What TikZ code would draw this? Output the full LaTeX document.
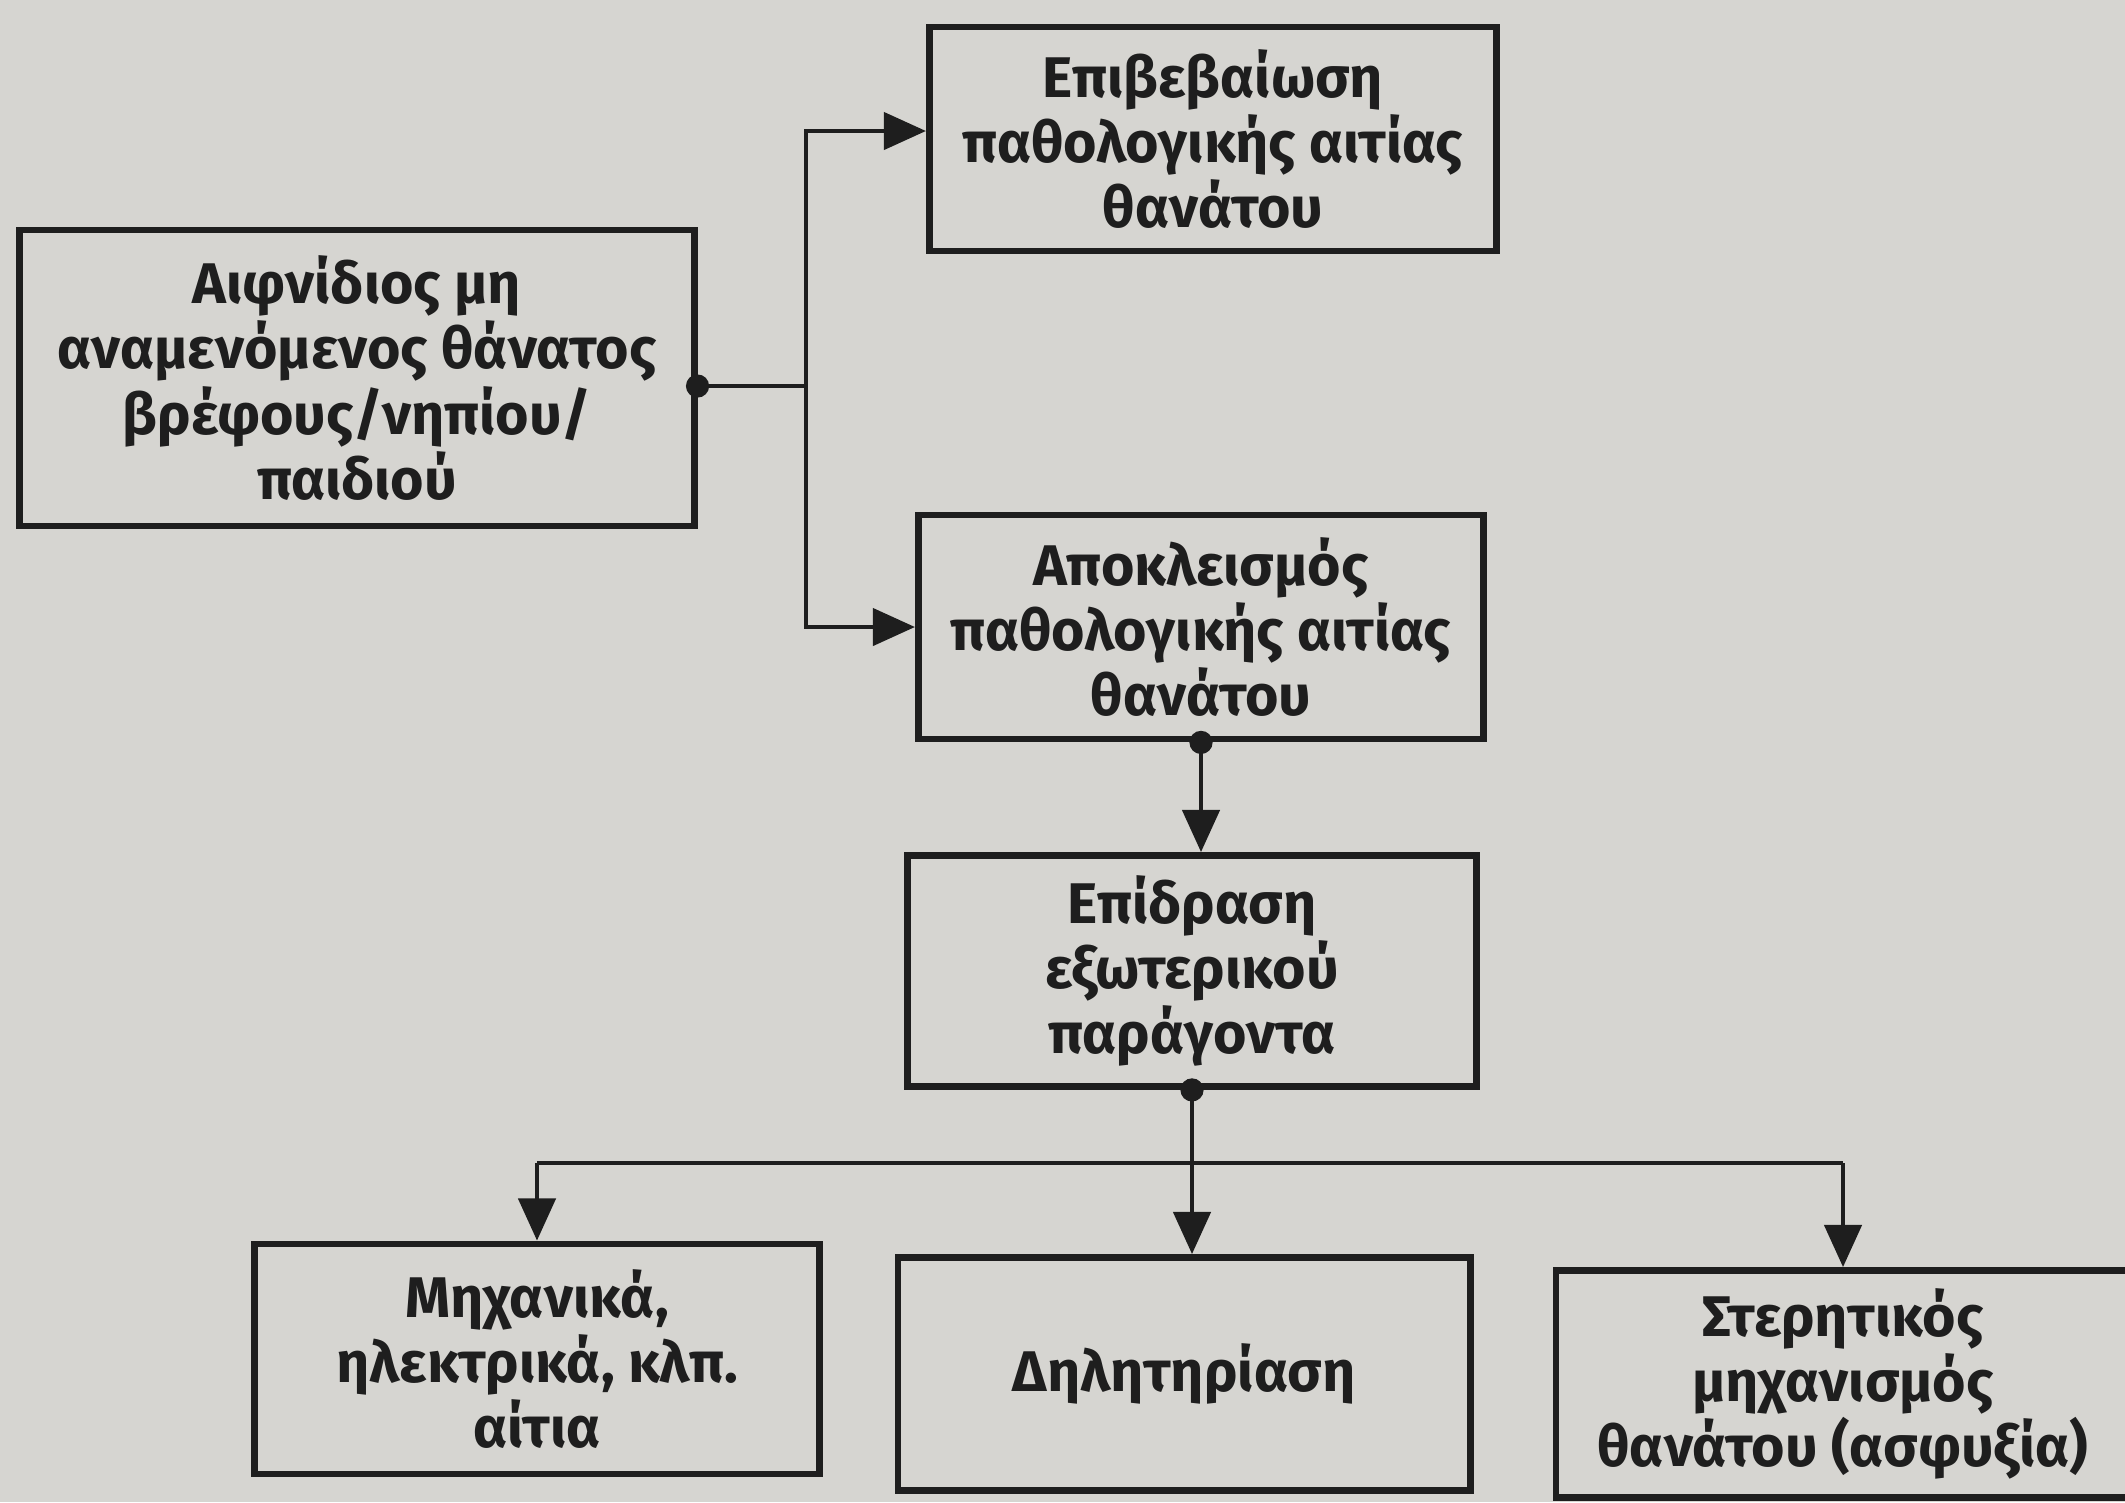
\documentclass[tikz,border=0pt]{standalone}
\usepackage{fontspec}
\setmainfont{Fira Sans}
\usetikzlibrary{arrows.meta,calc}
\definecolor{papergray}{RGB}{214,213,209}
\definecolor{inkcolor}{RGB}{30,30,30}

\begin{document}
\begin{tikzpicture}[x=0.01cm,y=-0.01cm,
  flowbox/.style={draw=inkcolor, line width=1.9pt, align=center, inner sep=0pt,
    font=\fontsize{16.3}{18.5}\selectfont\bfseries, text=inkcolor},
  link/.style={draw=inkcolor, line width=1.4pt},
  arrowlink/.style={link, -{Triangle[length=12pt,width=10.5pt]}},
  joint/.style={fill=inkcolor}]

  % --- Page: photographed paper, 2125x1502 px ---
  \fill[papergray] (0,0) rectangle (2125,1502);
  \useasboundingbox (0,0) rectangle (2125,1502);
  \clip (0,0) rectangle (2125,1502);

  % --- The boxes, placed at their centres ---
  \node[flowbox, minimum width=6.74cm, minimum height=2.96cm] (aiph) at (357,378)
    {Αιφνίδιος μη\\αναμενόμενος θάνατος\\βρέφους/νηπίου/\\παιδιού};
  \node[flowbox, minimum width=5.67cm, minimum height=2.24cm] (epib) at (1213,139)
    {Επιβεβαίωση\\παθολογικής αιτίας\\θανάτου};
  \node[flowbox, minimum width=5.65cm, minimum height=2.24cm] (apokl) at (1201,627)
    {Αποκλεισμός\\παθολογικής αιτίας\\θανάτου};
  \node[flowbox, minimum width=5.69cm, minimum height=2.31cm] (epid) at (1192,971)
    {Επίδραση\\εξωτερικού\\παράγοντα};
  \node[flowbox, minimum width=5.65cm, minimum height=2.30cm] (mixan) at (537,1359)
    {Μηχανικά,\\ηλεκτρικά, κλπ.\\αίτια};
  \node[flowbox, minimum width=5.72cm, minimum height=2.33cm] (dilit) at (1184,1374)
    {Δηλητηρίαση};
  \node[flowbox, minimum width=5.74cm, minimum height=2.27cm] (ster) at (1843,1384)
    {Στερητικός\\μηχανισμός\\θανάτου (ασφυξία)};

  % --- Fork from the first box ---
  \coordinate (split) at (806,386);
  \coordinate (epibin) at ([yshift=0.08cm]epib.west);
  \draw[arrowlink] (aiph.east |- split) -- (split) |- (epibin);
  \draw[arrowlink] (split) |- (apokl.west);

  % --- Straight step down ---
  \draw[arrowlink] (apokl.south) -- (apokl.south |- epid.north);

  % --- Three-way split under the external factor box ---
  \coordinate (bus) at (0,1163);
  \draw[arrowlink] (epid.south) -- (epid.south |- dilit.north);
  \draw[link] (mixan.north |- bus) -- (ster.north |- bus);
  \draw[arrowlink] (mixan.north |- bus) -- (mixan.north);
  \draw[arrowlink] (ster.north |- bus) -- (ster.north);

  % --- Junction dots ---
  \fill[joint] (aiph.east |- split) circle (3.3pt);
  \fill[joint] (apokl.south) circle (3.3pt);
  \fill[joint] (epid.south) circle (3.3pt);

\end{tikzpicture}
\end{document}
